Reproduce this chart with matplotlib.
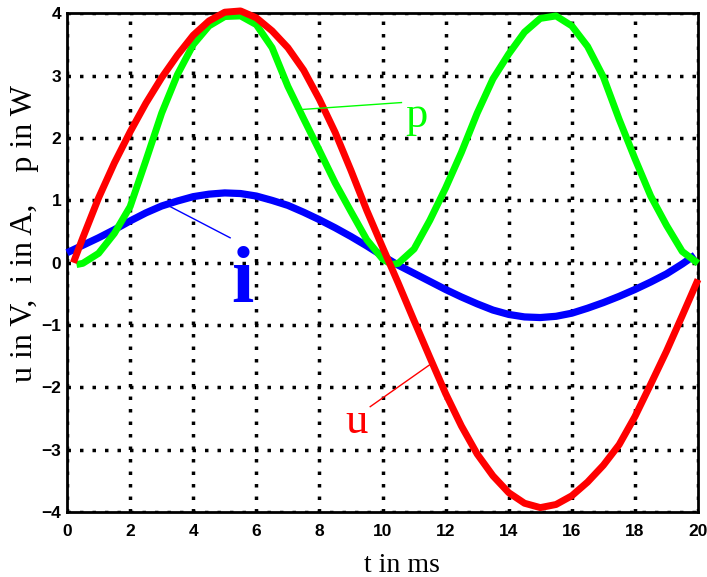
"""u, i and p over one period (t in ms)."""
import matplotlib.pyplot as plt

# voltage u in V
t_u = [0.2, 0.5, 1.0, 1.5, 2.0, 2.5, 3.0, 3.5, 4.0, 4.5, 5.0, 5.5, 6.0, 6.5,
       7.0, 7.5, 8.0, 8.5, 9.0, 9.5, 10.0, 10.5, 11.0, 11.5, 12.0, 12.5,
       13.0, 13.5, 14.0, 14.5, 15.0, 15.5, 16.0, 16.5, 17.0, 17.5, 18.0,
       18.5, 19.0, 19.5, 20.0]
u = [0.0, 0.4, 1.04, 1.6, 2.1, 2.56, 2.97, 3.33, 3.65, 3.88, 4.02, 4.04,
     3.93, 3.72, 3.45, 3.09, 2.62, 2.09, 1.48, 0.84, 0.25, -0.33, -0.93,
     -1.52, -2.1, -2.62, -3.07, -3.42, -3.69, -3.86, -3.93, -3.88, -3.74,
     -3.52, -3.25, -2.92, -2.47, -1.95, -1.42, -0.85, -0.27]

# current i in A
t_i = [0.0, 0.5, 1.0, 1.5, 2.0, 2.5, 3.0, 3.5, 4.0, 4.5, 5.0, 5.5, 6.0, 6.5,
       7.0, 7.5, 8.0, 8.5, 9.0, 9.5, 10.0, 10.5, 11.0, 11.5, 12.0, 12.5,
       13.0, 13.5, 14.0, 14.5, 15.0, 15.5, 16.0, 16.5, 17.0, 17.5, 18.0,
       18.5, 19.0, 19.5, 19.9]
i = [0.16, 0.28, 0.40, 0.53, 0.67, 0.80, 0.91, 0.99, 1.06, 1.10, 1.12, 1.11,
     1.07, 1.0, 0.92, 0.81, 0.69, 0.56, 0.42, 0.27, 0.11, -0.04, -0.17,
     -0.30, -0.43, -0.55, -0.66, -0.76, -0.83, -0.87, -0.88, -0.86, -0.81,
     -0.73, -0.64, -0.54, -0.43, -0.31, -0.18, -0.02, 0.12]

# power p in W
t_p = [0.3, 0.5, 1.0, 1.5, 2.0, 2.5, 3.0, 3.5, 4.0, 4.5, 5.0, 5.5, 6.0, 6.5,
       7.0, 7.5, 8.0, 8.5, 9.0, 9.5, 10.0, 10.3, 10.5, 11.0, 11.5, 12.0,
       12.5, 13.0, 13.5, 14.0, 14.5, 15.0, 15.5, 16.0, 16.5, 17.0, 17.5,
       18.0, 18.5, 19.0, 19.5, 20.0]
p = [-0.03, -0.01, 0.15, 0.47, 0.9, 1.64, 2.4, 3.02, 3.5, 3.8, 3.95, 3.96,
     3.82, 3.45, 2.83, 2.31, 1.8, 1.28, 0.82, 0.37, 0.06, -0.03, -0.01,
     0.22, 0.68, 1.2, 1.77, 2.4, 2.95, 3.35, 3.7, 3.92, 3.96, 3.8, 3.47,
     2.98, 2.3, 1.67, 1.07, 0.6, 0.18, -0.01]

x_ticks = [0, 2, 4, 6, 8, 10, 12, 14, 16, 18, 20]
y_ticks = [-4, -3, -2, -1, 0, 1, 2, 3, 4]

serif = 'Liberation Serif'
tick_font = {'family': 'Liberation Sans', 'weight': 'bold', 'size': 12.5}
curve = dict(clip_on=False, solid_joinstyle='round', solid_capstyle='butt')

fig = plt.figure(figsize=(7.07, 5.77), dpi=100)
ax = fig.add_axes([0.0948, 0.1127, 0.8925, 0.864])

ax.plot(t_i, i, color='#0000FF', lw=5.2, zorder=3, **curve)
ax.plot(t_p, p, color='#00FF00', lw=5.0, zorder=4, **curve)
ax.plot(t_u, u, color='#FF0000', lw=5.0, zorder=5, **curve)

# labels with leader lines
ax.plot([7.48, 10.6], [2.46, 2.57], color='#00FF00', lw=1.0, zorder=6)
ax.text(11.08, 2.17, 'p', color='#00FF00', fontsize=32, family=serif,
        ha='center', va='baseline')
ax.plot([3.27, 5.17], [0.9, 0.4], color='#0000FF', lw=1.0, zorder=6)
ax.text(5.55, -0.63, 'i', color='#0000FF', fontsize=58, family=serif,
        weight='bold', ha='center', va='baseline')
ax.plot([9.61, 11.49], [-2.31, -1.64], color='#FF0000', lw=1.0, zorder=6)
ax.text(9.18, -2.74, 'u', color='#FF0000', fontsize=32, family=serif,
        ha='center', va='baseline')

ax.set_xlim(0, 20)
ax.set_ylim(-4, 4)
ax.set_xticks(x_ticks)
ax.set_yticks(y_ticks)
ax.set_xticklabels([str(v) for v in x_ticks], fontdict=tick_font)
ax.set_yticklabels([str(v).replace('-', '\u2212') for v in y_ticks],
                   fontdict=tick_font)
ax.tick_params(direction='in', length=0, pad=4)
ax.tick_params(axis='x', pad=9)

ax.grid(True, color='black', lw=2.5, linestyle=(0, (1, 2.6)),
        dash_capstyle='butt')
ax.set_axisbelow(True)
for s in ax.spines.values():
    s.set_linewidth(2.0)

ax.set_xlabel('t in ms', family=serif, fontsize=20, va='baseline')
ax.xaxis.set_label_coords(0.531, -0.120)
ax.set_ylabel('u in V,  i in A,    p in W', family=serif, fontsize=23,
              va='baseline')
ax.yaxis.set_label_coords(-0.056, 0.558)

fig.savefig('out.png', dpi=100)
